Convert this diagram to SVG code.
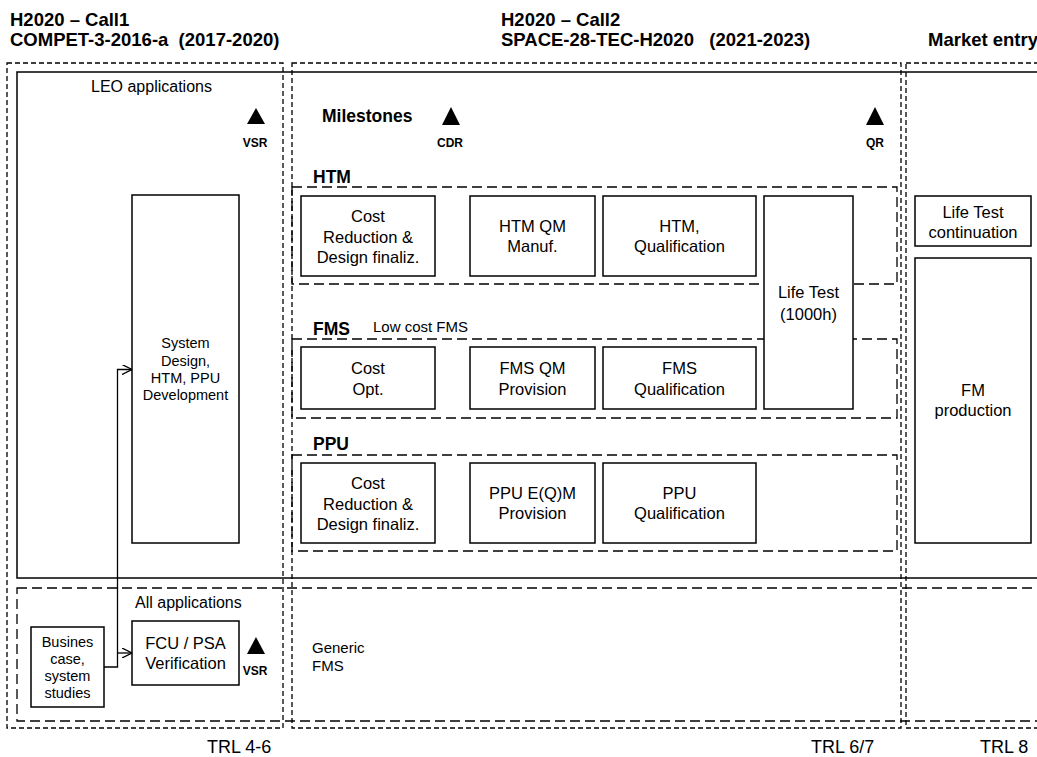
<svg xmlns="http://www.w3.org/2000/svg" width="1037" height="757" viewBox="0 0 1037 757">
<style>
text{font-family:"Liberation Sans",Arial,sans-serif;fill:#000}
.h{font-size:18.5px;font-weight:bold}
.lbl{font-size:17.5px;font-weight:bold}
.ms{font-size:12px;font-weight:bold;text-anchor:middle}
.t{font-size:16.5px;text-anchor:middle}
.s{font-size:14.5px;text-anchor:middle}
.col{fill:none;stroke:#000;stroke-width:1.3;stroke-dasharray:5 3}
.grp{fill:none;stroke:#000;stroke-width:1.3;stroke-dasharray:10 5}
.box{fill:#fff;stroke:#000;stroke-width:1.5}
.con{fill:none;stroke:#000;stroke-width:1.3}
.tri{fill:#000}
</style>
<defs>
<marker id="open" viewBox="0 0 10 10" refX="10" refY="5" markerWidth="10" markerHeight="10" markerUnits="userSpaceOnUse" orient="auto">
<polyline points="0,0 10,5 0,10" fill="none" stroke="#000" stroke-width="1.3"/>
</marker>
</defs>
<rect width="1037" height="757" fill="#fff"/>

<g id="headers">
<text class="h" x="10" y="26">H2020 – Call1</text>
<text class="h" x="10" y="46" xml:space="preserve">COMPET-3-2016-a  (2017-2020)</text>
<text class="h" x="501" y="26">H2020 – Call2</text>
<text class="h" x="501" y="46" xml:space="preserve">SPACE-28-TEC-H2020   (2021-2023)</text>
<text class="h" x="928" y="46">Market entry</text>
</g>

<g id="columns">
<rect class="col" x="7" y="63" width="276" height="665"/>
<rect class="col" x="292" y="63" width="609" height="665"/>
<rect class="col" x="906" y="63" width="150" height="665"/>
</g>

<g id="leo-area">
<rect x="17" y="72" width="1040" height="506" fill="none" stroke="#000" stroke-width="1.5"/>
<text x="91" y="92" style="font-size:16px">LEO applications</text>
</g>

<g id="all-applications">
<rect class="grp" x="17" y="588" width="1040" height="133"/>
<text x="135" y="608" style="font-size:16px">All applications</text>
<text x="312" y="653" style="font-size:15px">Generic</text>
<text x="312" y="671" style="font-size:15px">FMS</text>
</g>

<g id="milestones">
<text class="lbl" x="322" y="122">Milestones</text>
<polygon class="tri" points="256,108 265,124 247,124"/>
<text class="ms" x="255" y="147">VSR</text>
<polygon class="tri" points="451,107 460,125 442,125"/>
<text class="ms" x="450" y="147">CDR</text>
<polygon class="tri" points="875,107 884,125 866,125"/>
<text class="ms" x="875" y="147">QR</text>
<polygon class="tri" points="256,637 265,654 247,654"/>
<text class="ms" x="255" y="675">VSR</text>
</g>

<g id="htm-group">
<rect class="grp" x="292" y="187" width="605" height="97"/>
<text class="lbl" x="313" y="183">HTM</text>
</g>
<g id="fms-group">
<rect class="grp" x="292" y="339" width="605" height="79"/>
<text class="lbl" x="313" y="335">FMS</text>
<text x="373" y="332" style="font-size:15px">Low cost FMS</text>
</g>
<g id="ppu-group">
<rect class="grp" x="292" y="455" width="605" height="96"/>
<text class="lbl" x="313" y="450">PPU</text>
</g>

<g id="system-design">
<rect class="box" x="132" y="195" width="107" height="348"/>
<text class="s" x="185.5" y="348">System</text>
<text class="s" x="185.5" y="366">Design,</text>
<text class="s" x="185.5" y="383">HTM, PPU</text>
<text class="s" x="185.5" y="400">Development</text>
</g>

<g id="business-case">
<rect class="box" x="31" y="627" width="73" height="80"/>
<text class="s" x="67.5" y="647">Busines</text>
<text class="s" x="67.5" y="664">case,</text>
<text class="s" x="67.5" y="681">system</text>
<text class="s" x="67.5" y="698">studies</text>
</g>

<g id="fcu-psa">
<rect class="box" x="132" y="621" width="107" height="64"/>
<text class="t" x="185.5" y="649">FCU / PSA</text>
<text class="t" x="185.5" y="669">Verification</text>
</g>

<g id="htm-cost">
<rect class="box" x="301" y="196" width="134" height="80"/>
<text class="t" x="368" y="222">Cost</text>
<text class="t" x="368" y="243">Reduction &amp;</text>
<text class="t" x="368" y="263">Design finaliz.</text>
</g>
<g id="htm-qm">
<rect class="box" x="470" y="196" width="125" height="80"/>
<text class="t" x="532.5" y="232">HTM QM</text>
<text class="t" x="532.5" y="252">Manuf.</text>
</g>
<g id="htm-qual">
<rect class="box" x="603" y="196" width="153" height="80"/>
<text class="t" x="679.5" y="232">HTM,</text>
<text class="t" x="679.5" y="252">Qualification</text>
</g>
<g id="life-test">
<rect class="box" x="764" y="196" width="89" height="213"/>
<text class="t" x="808.5" y="298">Life Test</text>
<text class="t" x="808.5" y="320">(1000h)</text>
</g>

<g id="fms-cost">
<rect class="box" x="301" y="347" width="134" height="62"/>
<text class="t" x="368" y="374">Cost</text>
<text class="t" x="368" y="395">Opt.</text>
</g>
<g id="fms-qm">
<rect class="box" x="470" y="347" width="125" height="62"/>
<text class="t" x="532.5" y="374">FMS QM</text>
<text class="t" x="532.5" y="395">Provision</text>
</g>
<g id="fms-qual">
<rect class="box" x="603" y="347" width="153" height="62"/>
<text class="t" x="679.5" y="374">FMS</text>
<text class="t" x="679.5" y="395">Qualification</text>
</g>

<g id="ppu-cost">
<rect class="box" x="301" y="463" width="134" height="80"/>
<text class="t" x="368" y="489">Cost</text>
<text class="t" x="368" y="510">Reduction &amp;</text>
<text class="t" x="368" y="530">Design finaliz.</text>
</g>
<g id="ppu-eqm">
<rect class="box" x="470" y="463" width="125" height="80"/>
<text class="t" x="532.5" y="499">PPU E(Q)M</text>
<text class="t" x="532.5" y="519">Provision</text>
</g>
<g id="ppu-qual">
<rect class="box" x="603" y="463" width="153" height="80"/>
<text class="t" x="679.5" y="499">PPU</text>
<text class="t" x="679.5" y="519">Qualification</text>
</g>

<g id="life-test-cont">
<rect class="box" x="915" y="196" width="116" height="50"/>
<text class="t" x="973" y="218">Life Test</text>
<text class="t" x="973" y="238">continuation</text>
</g>
<g id="fm-production">
<rect class="box" x="915" y="258" width="116" height="285"/>
<text class="t" x="973" y="396">FM</text>
<text class="t" x="973" y="416">production</text>
</g>

<g id="connectors">
<polyline class="con" points="104,667 117.5,667 117.5,369.5 132,369.5" marker-end="url(#open)"/>
<polyline class="con" points="117.5,653 132,653" marker-end="url(#open)"/>
</g>

<g id="trl">
<text x="207" y="753" style="font-size:18px">TRL 4-6</text>
<text x="811" y="753" style="font-size:18px">TRL 6/7</text>
<text x="980" y="753" style="font-size:18px">TRL 8</text>
</g>
</svg>
